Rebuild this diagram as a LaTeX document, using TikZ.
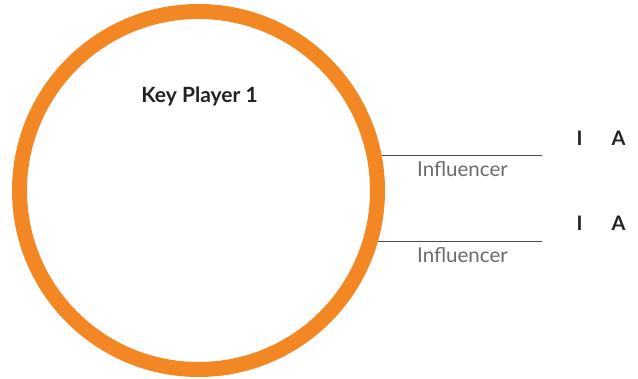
\documentclass[tikz,border=0pt]{standalone}
\usepackage{fontspec}
\setmainfont{Lato}
\definecolor{ring}{HTML}{F28723}
\definecolor{linegray}{HTML}{4A4A4A}
\definecolor{labelgray}{HTML}{6A6A6A}
\definecolor{dark}{HTML}{222222}
\tikzset{
  ringstyle/.style={circle, draw=ring, line width=15pt, minimum size=358pt, inner sep=0pt},
  title/.style={anchor=base, font=\fontsize{21pt}{24pt}\selectfont\bfseries, text=dark, inner sep=0pt},
  infl/.style={anchor=base, font=\fontsize{20.5pt}{24pt}\selectfont, text=labelgray, inner sep=0pt},
  letter/.style={anchor=base, font=\fontsize{20pt}{22pt}\selectfont\bfseries, text=dark, inner sep=0pt},
  rule/.style={draw=linegray, line width=1.1pt}
}
\begin{document}
\begin{tikzpicture}[x=1pt,y=-1pt]
\useasboundingbox (0,0) rectangle (638,379);
\node[ringstyle] (kp) at (198.5,190.5) {};
\node[title] (kpt) at (199.5,103) {Key Player 1};
\coordinate (l1s) at (381.7,155.7);
\coordinate (l1e) at (542,155.7);
\coordinate (l2s) at (377.9,241.3);
\coordinate (l2e) at (542,241.3);
\draw[rule] (l1s) -- (l1e);
\draw[rule] (l2s) -- (l2e);
\node[infl] (in1) at (462.5,177) {Influencer};
\node[infl] (in2) at (462.5,262.5) {Influencer};
\node[letter] (i1) at (579.5,146) {I};
\node[letter] (a1) at (618.5,146) {A};
\node[letter] (i2) at (579.5,231) {I};
\node[letter] (a2) at (618.5,231) {A};
\end{tikzpicture}
\end{document}
